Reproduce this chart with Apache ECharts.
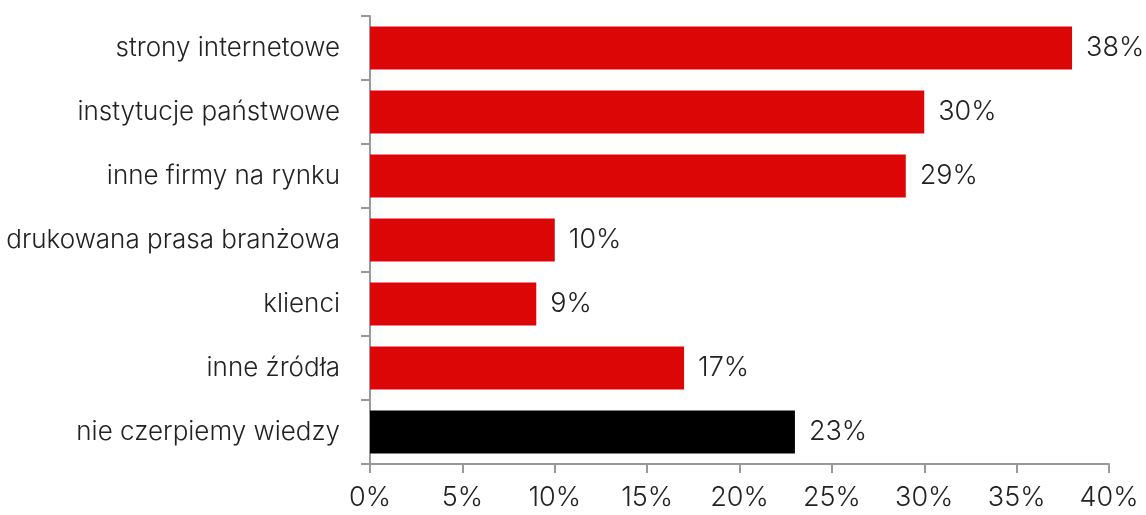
<!DOCTYPE html>
<html>
<head>
<meta charset="utf-8">
<script src="https://cdn.jsdelivr.net/npm/echarts@6/dist/echarts.min.js"></script>
<style>
html,body{margin:0;padding:0;background:#fff;}
#c{width:1146px;height:515px;}
</style>
</head>
<body>
<div id="c"></div>
<script>
const categories = ["strony internetowe","instytucje państwowe","inne firmy na rynku","drukowana prasa branżowa","klienci","inne źródła","nie czerpiemy wiedzy"];
const values = [38,30,29,10,9,17,23];
const barColors = ["#dd0606","#dd0606","#dd0606","#dd0606","#dd0606","#dd0606","#000000"];
const xTicks = [0,5,10,15,20,25,30,35,40];

const FONT = "Inter, 'Open Sans', sans-serif";
const chart = echarts.init(document.getElementById('c'));
chart.setOption({
  animation:false,
  grid:{left:370,right:37,top:16,bottom:51,containLabel:false},
  xAxis:{
    type:'value',min:xTicks[0],max:xTicks[xTicks.length-1],interval:xTicks[1]-xTicks[0],
    axisLine:{show:true,lineStyle:{color:'#999',width:2}},
    axisTick:{show:true,length:9,lineStyle:{color:'#999',width:2}},
    splitLine:{show:false},
    axisLabel:{formatter:v=>v+'%',fontSize:27,fontWeight:300,color:'#222',fontFamily:FONT,margin:20}
  },
  yAxis:{
    type:'category',data:categories,inverse:true,
    axisLine:{show:true,lineStyle:{color:'#999',width:2}},
    axisTick:{show:true,length:9,lineStyle:{color:'#999',width:2}},
    axisLabel:{fontSize:26,fontWeight:300,color:'#222',fontFamily:FONT,margin:30}
  },
  series:[{
    type:'bar',barCategoryGap:'33%',
    data:values.map((v,i)=>({value:v,itemStyle:{color:barColors[i]}})),
    label:{show:true,position:'right',distance:14,formatter:p=>p.value+'%',fontSize:27,fontWeight:300,color:'#222',fontFamily:FONT}
  }]
});
</script>
</body>
</html>
